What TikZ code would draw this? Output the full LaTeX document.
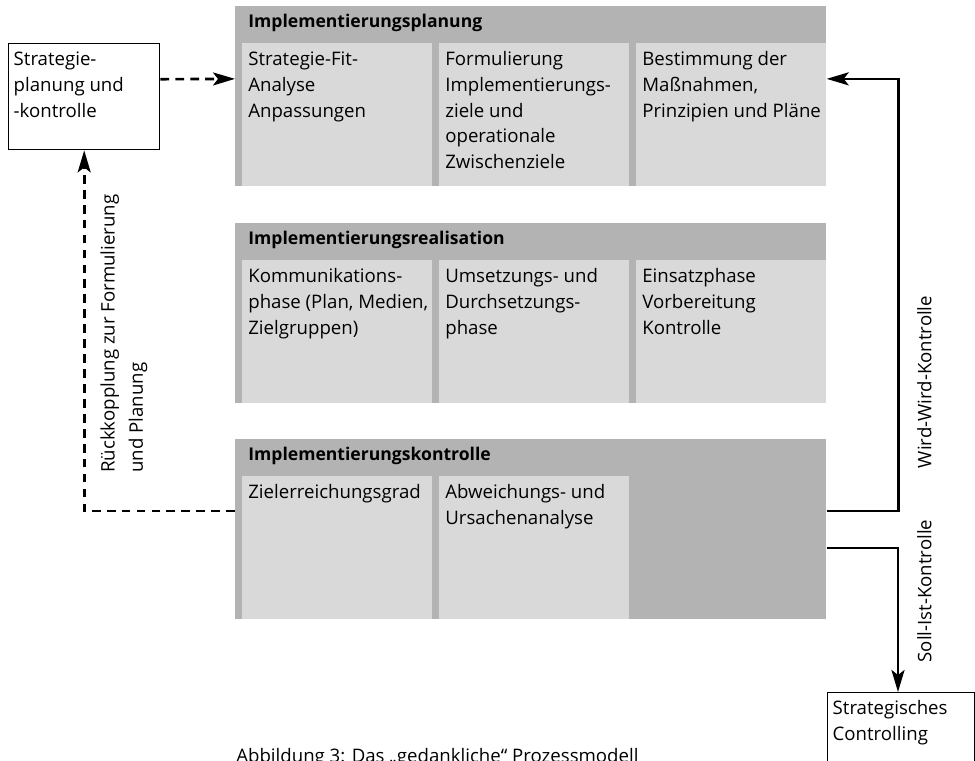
\documentclass[tikz,border=0pt]{standalone}
\usepackage{fontspec}
\setmainfont{Open Sans}
\usetikzlibrary{arrows.meta}

\definecolor{blockgray}{RGB}{179,179,179}
\definecolor{cellgray}{RGB}{217,217,217}

% text set at the top of a box, lines kept as written
\newcommand{\boxtext}[3]{\parbox[t][#2][t]{#1}{\strut\begin{tabular}[t]{@{}l@{}}#3\end{tabular}}}

\tikzset{
  block/.style={fill=blockgray, anchor=north west, minimum width=11.82cm, minimum height=3.6cm, inner sep=0pt},
  cell/.style={fill=cellgray, anchor=north west, inner xsep=0.12cm, inner ysep=0.08cm},
  head/.style={anchor=base west, inner sep=0pt, font=\bfseries},
  outerbox/.style={draw, line width=0.8pt, anchor=north west, inner xsep=0.1cm, inner ysep=0.08cm},
  flow/.style={line width=1.5pt, -{Stealth[length=0.44cm,width=0.26cm,inset=0.1cm]}},
  feedback/.style={flow, dash pattern=on 5pt off 3.5pt},
  sidelabel/.style={rotate=90, anchor=south, inner sep=0pt}
}

\begin{document}
\begin{tikzpicture}[font=\fontsize{10.6}{14.7}\selectfont]
\useasboundingbox (0,0) rectangle (19.5,-15.2);
\clip (0,0) rectangle (19.5,-15.2);

% Implementierungsplanung
\node[block] (plan) at (4.70,-0.12) {};
\node[head] (planhead) at (4.96,-0.54) {Implementierungsplanung};
\node[cell] (fit) at (4.84,-0.86) {\boxtext{3.56cm}{2.70cm}{Strategie-Fit-\\Analyse\\Anpassungen}};
\node[cell] (ziele) at (8.78,-0.86) {\boxtext{3.56cm}{2.70cm}{Formulierung\\Implementierungs-\\ziele und\\operationale\\Zwischenziele}};
\node[cell] (mass) at (12.72,-0.86) {\boxtext{3.56cm}{2.70cm}{Bestimmung der\\Maßnahmen,\\Prinzipien und Pläne}};

% Implementierungsrealisation
\node[block] (real) at (4.70,-4.46) {};
\node[head] (realhead) at (4.96,-4.88) {Implementierungsrealisation};
\node[cell] (komm) at (4.84,-5.20) {\boxtext{3.56cm}{2.70cm}{Kommunikations-\\phase (Plan, Medien,\\Zielgruppen)}};
\node[cell] (umsetz) at (8.78,-5.20) {\boxtext{3.56cm}{2.70cm}{Umsetzungs- und\\Durchsetzungs-\\phase}};
\node[cell] (einsatz) at (12.72,-5.20) {\boxtext{3.56cm}{2.70cm}{Einsatzphase\\Vorbereitung\\Kontrolle}};

% Implementierungskontrolle
\node[block] (kontr) at (4.70,-8.78) {};
\node[head] (kontrhead) at (4.96,-9.20) {Implementierungskontrolle};
\node[cell] (grad) at (4.84,-9.52) {\boxtext{3.56cm}{2.70cm}{Zielerreichungsgrad}};
\node[cell] (abw) at (8.78,-9.52) {\boxtext{3.56cm}{2.70cm}{Abweichungs- und\\Ursachenanalyse}};

% outer boxes
\node[outerbox] (strat) at (0.16,-0.86) {\boxtext{2.82cm}{1.96cm}{Strategie-\\planung und\\-kontrolle}};
\node[outerbox] (ctrl) at (16.54,-13.84) {\boxtext{2.74cm}{2.2cm}{Strategisches\\Controlling}};

% connectors
\draw[feedback] ([yshift=0.35cm]strat.east) -- ([yshift=0.35cm]plan.west);
\draw[feedback] ([yshift=0.37cm]kontr.west) -| (strat.south);
\draw[flow] ([yshift=0.37cm]kontr.east) -- ++(1.44,0) |- ([yshift=0.35cm]plan.east);
\draw[flow] ([yshift=-0.37cm]kontr.east) -| ([xshift=1.42cm]ctrl.north west);

% labels
\node[rotate=90, anchor=north west, align=left, inner sep=0pt] (rueck) at (2.00,-9.46) {Rückkopplung zur Formulierung\\[1.5pt]und Planung};
\node[sidelabel] (wird) at (18.64,-7.64) {Wird-Wird-Kontrolle};
\node[sidelabel] (soll) at (18.64,-11.82) {Soll-Ist-Kontrolle};
\node[anchor=base west, inner sep=0pt] (caption) at (4.72,-15.24) {Abbildung 3: Das „gedankliche“ Prozessmodell};

\end{tikzpicture}
\end{document}
